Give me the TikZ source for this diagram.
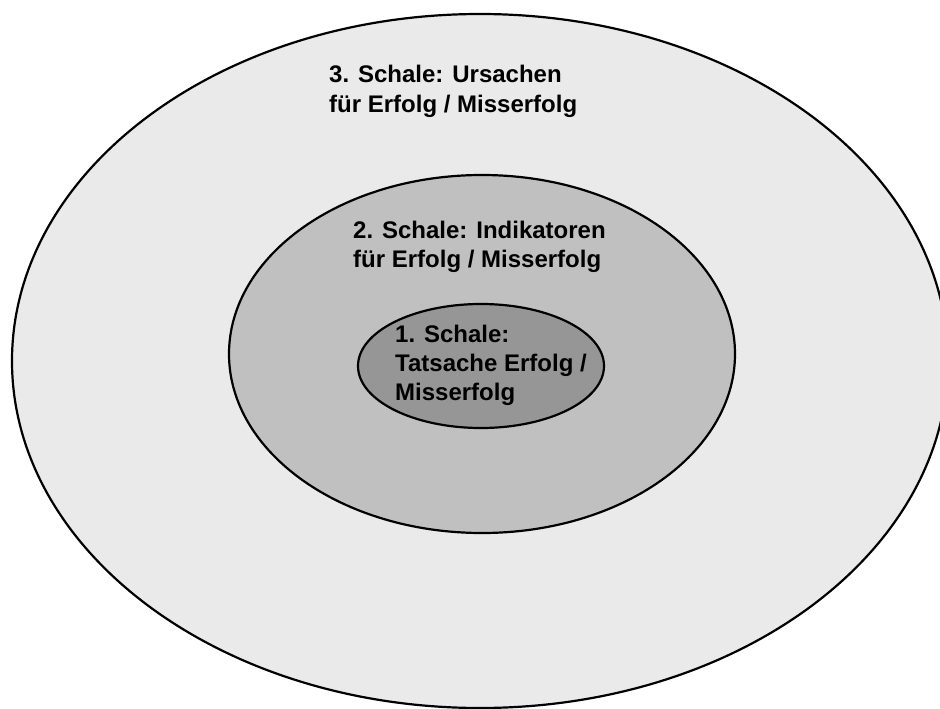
\documentclass[tikz,border=0pt]{standalone}
\usepackage{fontspec}
\setmainfont{Liberation Sans}
\usetikzlibrary{shapes,positioning}
\definecolor{hell}{HTML}{EAEAEA}
\definecolor{mittel}{HTML}{C0C0C0}
\definecolor{dunkel}{HTML}{969696}
\tikzstyle{shell} = [draw, ellipse, line width=2.2pt, inner sep=0pt]
\tikzstyle{schaletext} = [anchor=base west, align=left, inner sep=0pt,
    font=\fontsize{24}{29}\selectfont\bfseries]

\begin{document}
\begin{tikzpicture}[x=1pt,y=-1pt]
  \useasboundingbox (0,0) rectangle (940,709);
  \clip (0,0) rectangle (940,709);

  % the three shells, outside in
  \node [shell, fill=hell, minimum width=936pt, minimum height=694pt] (schale3) at (480,361) {};
  \node [shell, fill=mittel, minimum width=506pt, minimum height=358pt] (schale2) at (482,354) {};
  \node [shell, fill=dunkel, minimum width=246pt, minimum height=124pt] (schale1) at (481,366) {};

  % base west = baseline of the last line
  \node [schaletext] (text3) at (329,112) {3. Schale: Ursachen\\f\"ur Erfolg / Misserfolg};
  \node [schaletext] (text2) at (353,267) {2. Schale: Indikatoren\\f\"ur Erfolg / Misserfolg};
  \node [schaletext] (text1) at (395,400) {1. Schale:\\Tatsache Erfolg /\\Misserfolg};
\end{tikzpicture}
\end{document}
